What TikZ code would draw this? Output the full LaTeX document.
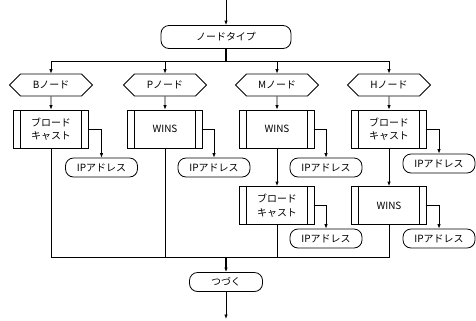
\documentclass[tikz,border=0pt]{standalone}
\usepackage{fontspec}
\setmainfont{Noto Sans CJK JP}
\usepackage{tikz}
\usetikzlibrary{shapes,arrows.meta,positioning,calc}

\begin{document}
\begin{tikzpicture}[x=1bp, y=-1bp,
    font=\fontsize{10}{13.5}\selectfont,
    line width=0.8bp,
    arr/.style={-{Latex[length=4.5bp,width=3.5bp]}},
    term/.style={draw, rectangle, rounded corners=8bp, inner sep=0pt},
    choice/.style={draw, signal, signal to=west and east, signal pointer angle=90,
        minimum width=83bp, minimum height=22bp, inner sep=0pt},
    proc/.style={draw, rectangle, minimum width=75bp, minimum height=38bp,
        align=center, inner sep=0pt,
        path picture={
            \draw ([xshift=7bp]path picture bounding box.north west)
                -- ([xshift=7bp]path picture bounding box.south west);
            \draw ([xshift=-7bp]path picture bounding box.north east)
                -- ([xshift=-7bp]path picture bounding box.south east);
        }},
    addr/.style={term, minimum width=72bp, minimum height=19bp}]
    % page size
    \useasboundingbox (0,0) rectangle (476,320);

    % top
    \coordinate (start) at (226,0);
    \node[term, minimum width=130bp, minimum height=23bp] (type) at (226,37) {ノードタイプ};
    \coordinate (split) at (226,61);

    % node types
    \node[choice] (bnode) at (51,85)  {Bノード};
    \node[choice] (pnode) at (165,85) {Pノード};
    \node[choice] (mnode) at (277,85) {Mノード};
    \node[choice] (hnode) at (389,85) {Hノード};

    % first processes
    \node[proc] (bcast)  at (51,129)  {ブロード\\キャスト};
    \node[proc] (pwins)  at (165,129) {WINS};
    \node[proc] (mwins)  at (277,129) {WINS};
    \node[proc] (hcast)  at (389,129) {ブロード\\キャスト};

    % second processes
    \node[proc] (mcast)  at (277,205.5) {ブロード\\キャスト};
    \node[proc] (hwins)  at (389,205.5) {WINS};

    % addresses
    \node[addr] (bip)  at (101.5,167.5) {IPアドレス};
    \node[addr] (pip)  at (214,167.5)   {IPアドレス};
    \node[addr] (mip)  at (326,167.5)   {IPアドレス};
    \node[addr] (hip)  at (439,163.5)   {IPアドレス};
    \node[addr] (mip2) at (326,238.5)   {IPアドレス};
    \node[addr] (hip2) at (439,238.5)   {IPアドレス};

    % bottom
    \coordinate (join) at (226,257);
    \node[term, minimum width=73bp, minimum height=19bp] (cont) at (226,282) {つづく};
    \coordinate (finish) at (226,319);

    % connectors
    \draw[arr] (start) -- (type);
    \draw[line width=1.3bp] (type) -- (split);
    \foreach \n in {bnode,pnode,mnode,hnode}
        \draw[arr] (split) -| (\n.north);
    \draw[arr] (bnode) -- (bcast);
    \draw[arr] (pnode) -- (pwins);
    \draw[arr] (mnode) -- (mwins);
    \draw[arr] (hnode) -- (hcast);
    \draw[arr] (mwins) -- (mcast);
    \draw[arr] (hcast) -- (hwins);
    \draw[arr] (bcast.east) -| (bip.north);
    \draw[arr] (pwins.east) -| (pip.north);
    \draw[arr] (mwins.east) -| (mip.north);
    \draw[arr] (hcast.east) -| (hip.north);
    \draw[arr] (mcast.east) -| (mip2.north);
    \draw[arr] (hwins.east) -| (hip2.north);
    \foreach \n in {bcast,pwins,mcast,hwins}
        \draw (\n.south) |- (join);
    \draw[arr, line width=1.3bp] (join) -- (cont);
    \draw[arr] (cont) -- (finish);
\end{tikzpicture}
\end{document}
